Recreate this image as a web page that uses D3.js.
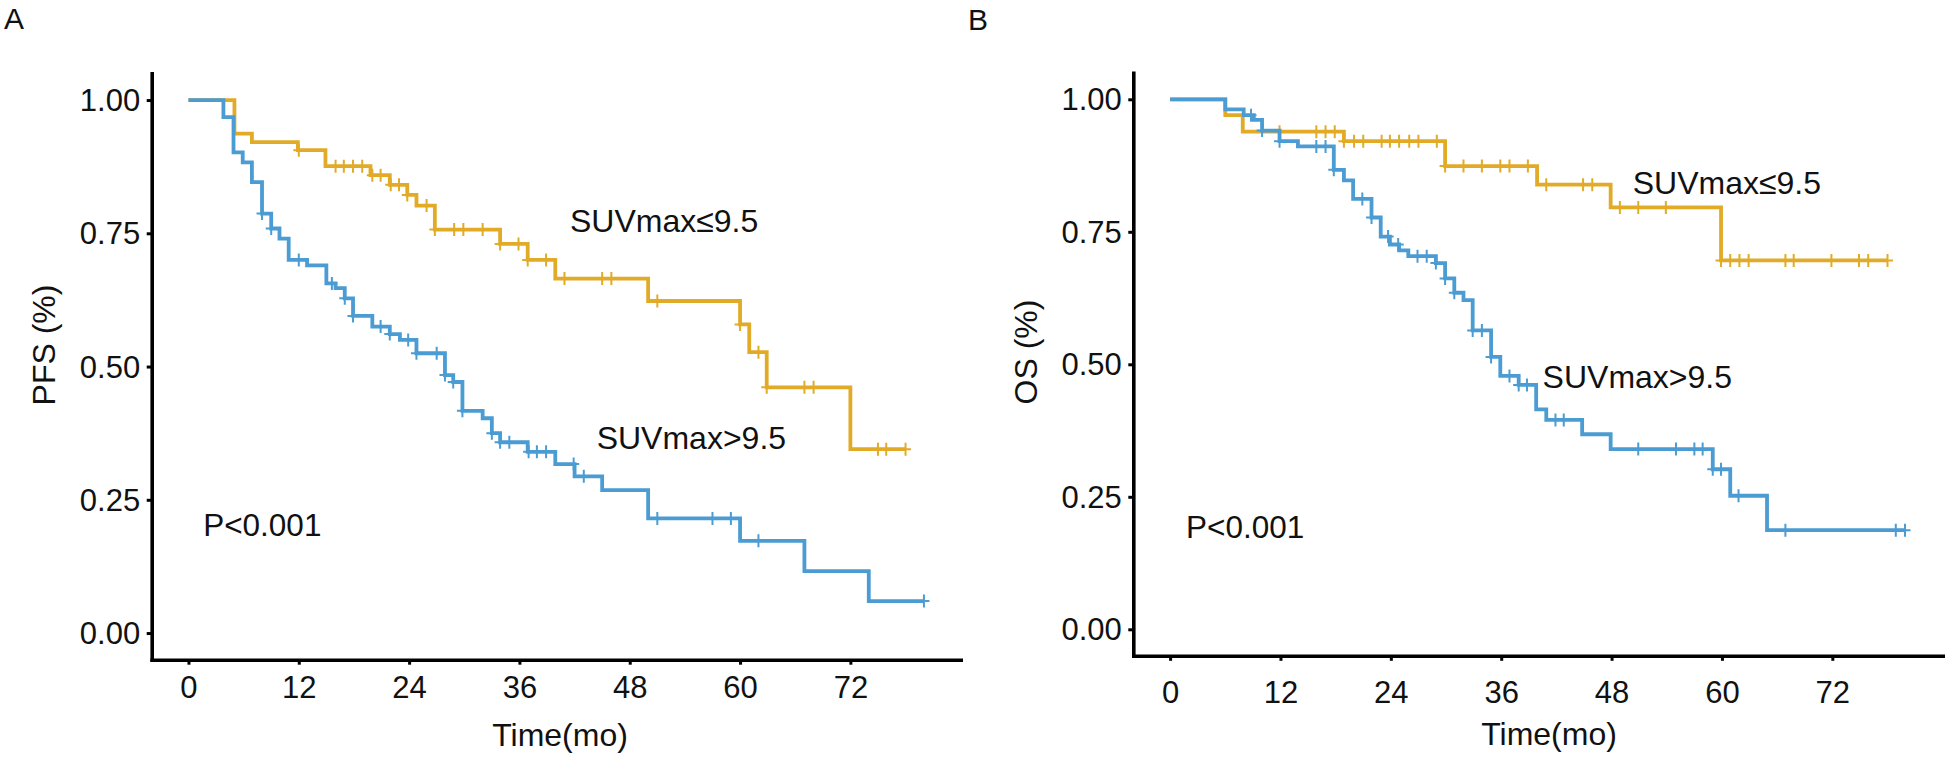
<!DOCTYPE html>
<html>
<head>
<meta charset="utf-8">
<script src="https://cdn.jsdelivr.net/npm/d3@7"></script>
<style>
  html, body { margin: 0; padding: 0; background: #fff; }
  svg text { font-family: "Liberation Sans", Arial, sans-serif; fill: #111; }
</style>
</head>
<body>
<svg id="chart" width="1946" height="757"></svg>
<script>
// ---------------- data ----------------
const xTicks = [0, 12, 24, 36, 48, 60, 72];
const yTicks = [0, 0.25, 0.5, 0.75, 1];
const groupLabels = ["SUVmax\u22649.5", "SUVmax>9.5"];
const pValueLabel = "P<0.001";

// Panel A: PFS
const pfsLowTimes = [5.0, 6.9, 11.9, 14.9, 19.8, 21.9, 23.8, 24.8, 26.8, 33.9, 36.9, 39.9, 50.0, 60.0, 61.0, 62.9, 72.0];
const pfsLowSurv  = [0.937, 0.921, 0.906, 0.876, 0.859, 0.841, 0.822, 0.802, 0.757, 0.730, 0.700, 0.665, 0.623, 0.579, 0.527, 0.461, 0.345];
const pfsLowCensor = [12.0, 16.0, 16.9, 17.9, 18.9, 20.0, 20.9, 22.0, 22.9, 23.8, 25.9, 26.8, 28.9, 29.9, 32.0, 33.9, 35.9, 36.9, 38.9, 40.9, 45.0, 46.0, 51.0, 60.0, 62.0, 62.9, 67.0, 68.0, 75.0, 75.9, 78.0];

const pfsHighTimes = [3.8, 4.9, 5.9, 6.9, 8.0, 9.0, 9.9, 10.9, 12.9, 15.0, 16.0, 17.0, 17.9, 20.0, 21.9, 23.0, 24.8, 27.9, 28.8, 29.8, 32.0, 33.0, 33.9, 36.9, 39.9, 42.0, 45.0, 50.0, 60.0, 67.0, 74.0];
const pfsHighSurv  = [0.968, 0.902, 0.883, 0.846, 0.787, 0.759, 0.740, 0.700, 0.690, 0.656, 0.647, 0.628, 0.595, 0.575, 0.561, 0.550, 0.525, 0.484, 0.471, 0.417, 0.403, 0.375, 0.358, 0.340, 0.317, 0.294, 0.268, 0.215, 0.173, 0.116, 0.060];
const pfsHighCensor = [8.0, 9.0, 12.0, 15.6, 17.0, 17.9, 20.9, 21.9, 23.9, 24.8, 27.0, 27.9, 28.8, 29.8, 33.0, 33.9, 34.9, 37.0, 37.9, 38.9, 41.9, 43.0, 51.0, 57.0, 59.0, 62.0, 80.0];

// Panel B: OS
const osLowTimes = [6.0, 7.9, 18.9, 29.9, 39.9, 47.9, 59.9];
const osLowSurv  = [0.970, 0.939, 0.921, 0.874, 0.839, 0.796, 0.696];
const osLowCensor = [11.9, 15.9, 16.9, 17.9, 18.9, 20.0, 21.0, 23.0, 23.9, 24.9, 26.0, 27.0, 29.0, 29.9, 31.9, 33.9, 35.9, 36.9, 38.9, 40.9, 44.9, 45.9, 48.9, 50.9, 53.9, 59.9, 60.9, 61.9, 62.9, 66.9, 67.8, 71.9, 74.9, 75.9, 78.0];

const osHighTimes = [6.0, 8.0, 9.1, 10.0, 11.9, 13.9, 17.8, 18.9, 19.9, 21.9, 22.9, 23.9, 24.9, 25.9, 28.9, 29.9, 30.9, 31.9, 32.9, 34.9, 35.9, 37.9, 39.8, 40.9, 44.8, 47.9, 59.0, 60.9, 64.9];
const osHighSurv  = [0.981, 0.970, 0.961, 0.941, 0.921, 0.911, 0.867, 0.847, 0.812, 0.777, 0.741, 0.726, 0.715, 0.704, 0.691, 0.662, 0.635, 0.621, 0.564, 0.514, 0.478, 0.461, 0.415, 0.395, 0.368, 0.340, 0.302, 0.252, 0.187];
const osHighCensor = [8.8, 10.0, 11.9, 15.9, 16.9, 17.8, 20.9, 21.9, 23.7, 24.8, 26.9, 27.9, 28.9, 29.9, 30.9, 32.9, 33.9, 34.9, 36.9, 37.9, 38.8, 41.9, 42.8, 50.9, 55.0, 57.0, 57.9, 59.0, 59.9, 61.8, 66.9, 78.9, 79.9];

// ---------------- layout / style ----------------
const colors = { low: "#E2AB27", high: "#4A9CD3" };
const FONT = 31;

const panels = [
  {
    tag: "A", tagX: 4, tagY: 29,
    yTitle: "PFS (%)", yTitleX: 55, yTitleY: 345,
    x0: 151.7, x1: 960.7, y0: 659.7, y1: 73.4,
    xTickPad: 11.5, xTitleX: 560, xTitleY: 746,
    low: { t: pfsLowTimes, s: pfsLowSurv, c: pfsLowCensor },
    high: { t: pfsHighTimes, s: pfsHighSurv, c: pfsHighCensor },
    lowLabel: [41.5, 0.752], highLabel: [44.4, 0.345], pLabel: [1.6, 0.183]
  },
  {
    tag: "B", tagX: 968, tagY: 30,
    yTitle: "OS (%)", yTitleX: 1037, yTitleY: 352,
    x0: 1133.3, x1: 1942.7, y0: 655.8, y1: 72.8,
    xTickPad: 20, xTitleX: 1549, xTitleY: 745,
    low: { t: osLowTimes, s: osLowSurv, c: osLowCensor },
    high: { t: osHighTimes, s: osHighSurv, c: osHighCensor },
    lowLabel: [50.3, 0.821], highLabel: [40.5, 0.455], pLabel: [1.74, 0.172]
  }
];

const svg = d3.select("#chart");

function survAt(times, surv, t) {
  let s = 1;
  for (let i = 0; i < times.length; i++) { if (times[i] <= t + 1e-9) s = surv[i]; }
  return s;
}

panels.forEach(p => {
  const x = d3.scaleLinear().domain([-4, 84]).range([p.x0, p.x1]);
  const y = d3.scaleLinear().domain([-0.05, 1.05]).range([p.y0, p.y1]);
  const g = svg.append("g");

  // curves
  const line = d3.line().x(d => x(d[0])).y(d => y(d[1])).curve(d3.curveStepAfter);
  [["low", colors.low], ["high", colors.high]].forEach(([key, col]) => {
    const grp = p[key];
    const end = Math.max(d3.max(grp.c), d3.max(grp.t));
    const pts = [[0, 1]];
    grp.t.forEach((t, i) => pts.push([t, grp.s[i]]));
    pts.push([end, survAt(grp.t, grp.s, end)]);
    g.append("path").attr("d", line(pts))
      .attr("fill", "none").attr("stroke", col)
      .attr("stroke-width", 3.8).attr("stroke-linejoin", "miter");
    // censor marks
    g.append("g").selectAll("path").data(grp.c).join("path")
      .attr("d", c => {
        const cx = x(c), cy = y(survAt(grp.t, grp.s, c));
        return `M${cx - 5.5},${cy}H${cx + 5.5}M${cx},${cy - 6.5}V${cy + 6.5}`;
      })
      .attr("stroke", col).attr("stroke-width", 2).attr("fill", "none");
  });

  // axes
  const yAxis = d3.axisLeft(y).tickValues(yTicks).tickFormat(d3.format(".2f"))
    .tickSize(5).tickSizeOuter(0).tickPadding(6.5);
  const xAxis = d3.axisBottom(x).tickValues(xTicks).tickFormat(d3.format("d"))
    .tickSize(5).tickSizeOuter(0).tickPadding(p.xTickPad);

  const ya = g.append("g").attr("transform", `translate(${p.x0},0)`).call(yAxis);
  const xa = g.append("g").attr("transform", `translate(0,${p.y0})`).call(xAxis);
  [ya, xa].forEach(a => {
    a.select(".domain").attr("stroke", "#000").attr("stroke-width", 3.6).attr("stroke-linecap", "square");
    a.selectAll(".tick line").attr("stroke", "#000").attr("stroke-width", 3);
    a.selectAll(".tick text").attr("font-size", FONT).attr("fill", "#111")
      .attr("font-family", "'Liberation Sans', Arial, sans-serif");
  });
  ya.selectAll(".tick text").attr("dy", "0.34em");

  // titles
  g.append("text").attr("x", p.xTitleX).attr("y", p.xTitleY)
    .attr("text-anchor", "middle").attr("font-size", 32).text("Time(mo)");
  g.append("text").attr("transform", `translate(${p.yTitleX},${p.yTitleY}) rotate(-90)`)
    .attr("text-anchor", "middle").attr("font-size", 32).text(p.yTitle);
  g.append("text").attr("x", p.tagX).attr("y", p.tagY).attr("font-size", 30)
    .text(p.tag);

  // annotations
  g.append("text").attr("x", x(p.lowLabel[0])).attr("y", y(p.lowLabel[1]))
    .attr("font-size", 32).text(groupLabels[0]);
  g.append("text").attr("x", x(p.highLabel[0])).attr("y", y(p.highLabel[1]))
    .attr("font-size", 32).text(groupLabels[1]);
  g.append("text").attr("x", x(p.pLabel[0])).attr("y", y(p.pLabel[1]))
    .attr("font-size", 31.5).text(pValueLabel);
});
</script>
</body>
</html>
